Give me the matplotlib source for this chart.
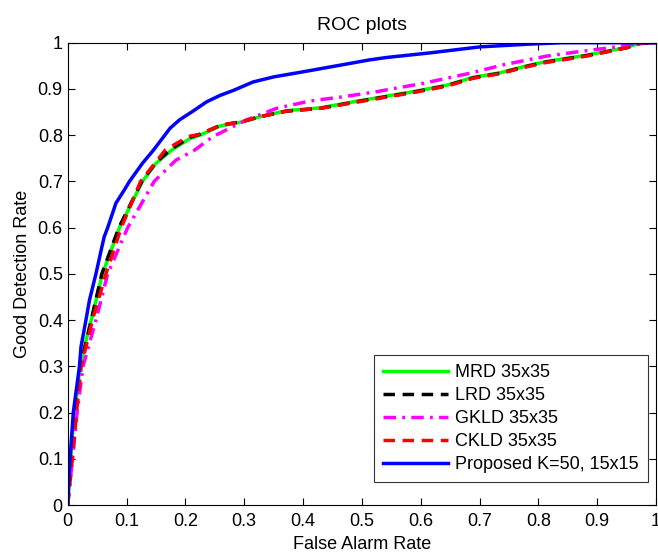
import matplotlib
matplotlib.use("Agg")
import matplotlib.pyplot as plt
import numpy as np

plt.rcParams['font.family'] = ['Liberation Sans', 'DejaVu Sans']

# Proposed (blue)
prop_x = [0.0, 0.004, 0.0095, 0.020, 0.0226, 0.031, 0.037, 0.048, 0.057, 0.062, 0.068, 0.082, 0.096,
          0.105, 0.127, 0.146, 0.174, 0.190, 0.213, 0.236, 0.259, 0.282, 0.315, 0.350, 0.400, 0.457,
          0.514, 0.542, 0.616, 0.701, 0.786, 0.840, 1.0]
prop_y = [0.0, 0.10, 0.20, 0.30, 0.342, 0.40, 0.443, 0.50, 0.552, 0.580, 0.60, 0.653, 0.681,
          0.70, 0.739, 0.768, 0.815, 0.833, 0.852, 0.872, 0.886, 0.897, 0.915, 0.926, 0.937, 0.950,
          0.963, 0.968, 0.978, 0.991, 0.997, 1.0, 1.0]

# MRD (green)
mrd_x = [0.0, 0.004, 0.008, 0.012, 0.021, 0.030, 0.040, 0.059, 0.088, 0.127, 0.150, 0.177, 0.208,
         0.225, 0.259, 0.298, 0.327, 0.372, 0.429, 0.485, 0.531, 0.587, 0.644, 0.689, 0.735, 0.774,
         0.812, 0.882, 0.950, 0.973, 1.0]
mrd_y = [0.0, 0.08, 0.15, 0.20, 0.30, 0.35, 0.40, 0.50, 0.60, 0.70, 0.739, 0.768, 0.793,
         0.800, 0.820, 0.829, 0.840, 0.853, 0.859, 0.872, 0.882, 0.894, 0.908, 0.925, 0.935, 0.948,
         0.959, 0.973, 0.990, 0.999, 1.0]

# LRD (black)
lrd_x = [0.0, 0.004, 0.008, 0.012, 0.021, 0.031, 0.040, 0.058, 0.087, 0.126, 0.150, 0.176, 0.207,
         0.225, 0.259, 0.298, 0.327, 0.372, 0.429, 0.485, 0.531, 0.587, 0.644, 0.689, 0.735, 0.774,
         0.812, 0.882, 0.950, 0.973, 1.0]
lrd_y = [0.0, 0.08, 0.15, 0.20, 0.30, 0.35, 0.40, 0.50, 0.60, 0.70, 0.741, 0.770, 0.795,
         0.802, 0.821, 0.830, 0.840, 0.852, 0.858, 0.871, 0.881, 0.893, 0.907, 0.924, 0.934, 0.947,
         0.958, 0.972, 0.989, 0.999, 1.0]

# GKLD (magenta)
gkld_x = [0.0, 0.008, 0.016, 0.026, 0.048, 0.068, 0.102, 0.147, 0.184, 0.215, 0.247, 0.304, 0.355,
          0.412, 0.468, 0.525, 0.542, 0.604, 0.684, 0.740, 0.814, 0.871, 0.927, 0.973, 1.0]
gkld_y = [0.0, 0.10, 0.20, 0.30, 0.40, 0.50, 0.60, 0.70, 0.746, 0.767, 0.797, 0.833, 0.858,
          0.874, 0.883, 0.894, 0.898, 0.912, 0.934, 0.952, 0.971, 0.981, 0.990, 0.999, 1.0]

# CKLD (red)
ckld_x = [0.0, 0.008, 0.015, 0.023, 0.042, 0.065, 0.091, 0.124, 0.166, 0.205, 0.225, 0.259, 0.298,
          0.327, 0.372, 0.429, 0.485, 0.531, 0.587, 0.644, 0.689, 0.735, 0.774, 0.812, 0.882, 0.950,
          0.973, 1.0]
ckld_y = [0.0, 0.10, 0.20, 0.30, 0.40, 0.50, 0.60, 0.70, 0.768, 0.797, 0.802, 0.821, 0.830,
          0.840, 0.852, 0.858, 0.870, 0.880, 0.892, 0.906, 0.923, 0.933, 0.946, 0.957, 0.971, 0.989,
          0.998, 1.0]

labels = ['MRD 35x35', 'LRD 35x35', 'GKLD 35x35', 'CKLD 35x35', 'Proposed K=50, 15x15']

fig = plt.figure(figsize=(6.58, 5.52), dpi=100)
ax = fig.add_axes([67.7 / 658, 47 / 552, (656 - 67.7) / 658, (505 - 42.7) / 552])

lw = 2.5
ax.plot(mrd_x, mrd_y, color='#00ff00', lw=lw, label=labels[0])
ax.plot(lrd_x, lrd_y, color='black', lw=lw, ls=(0, (3.3, 2.2)), label=labels[1])
ax.plot(gkld_x, gkld_y, color='#ff00ff', lw=lw, ls=(0, (3.6, 1.8, 0.8, 1.8)), label=labels[2])
ax.plot(ckld_x, ckld_y, color='red', lw=lw, ls=(0, (3.3, 2.2)), label=labels[3])
ax.plot(prop_x, prop_y, color='blue', lw=lw, label=labels[4])

ax.set_xlim(0, 1)
ax.set_ylim(0, 1)
ticks = np.round(np.arange(0, 1.01, 0.1), 1)
ticklabels = ['0'] + [f'{t:g}' for t in ticks[1:-1]] + ['1']
ax.set_xticks(ticks)
ax.set_xticklabels(ticklabels)
ax.set_yticks(ticks)
ax.set_yticklabels(ticklabels)
ax.tick_params(direction='in', top=True, right=True, length=5, labelsize=13, width=0.8)
ax.tick_params(axis='x', pad=6)
ax.tick_params(axis='y', pad=3.5)
for s in ax.spines.values():
    s.set_linewidth(0.8)

ax.set_xlabel('False Alarm Rate', fontsize=13, labelpad=4)
ax.set_ylabel('Good Detection Rate', fontsize=13, labelpad=5)
ax.set_title('ROC plots', fontsize=14, pad=9)

leg = ax.legend(loc='lower right', bbox_to_anchor=(0.986, 0.050), borderaxespad=0,
                fontsize=13, frameon=True, fancybox=False, edgecolor='black',
                handlelength=3.6, labelspacing=0.33, handletextpad=0.4, borderpad=0.5)
leg.get_frame().set_linewidth(0.8)

fig.savefig('out.png', dpi=100)
